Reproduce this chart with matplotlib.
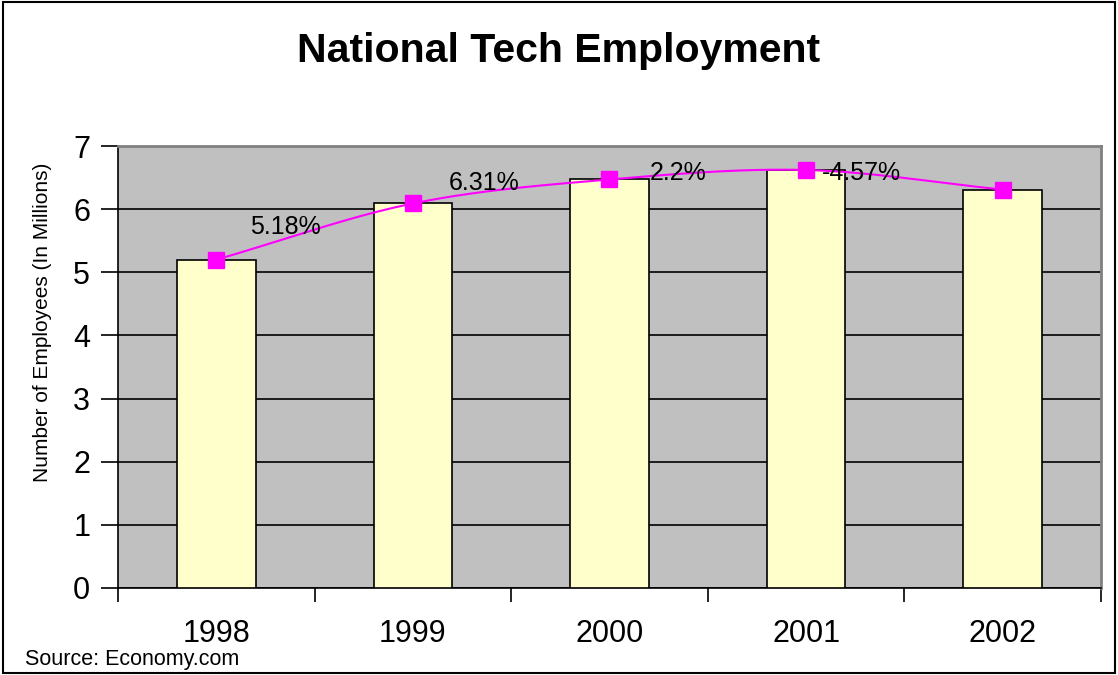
import numpy as np
import matplotlib
matplotlib.use("Agg")
import matplotlib.pyplot as plt
from matplotlib.patches import Rectangle

plt.rcParams['font.family'] = ['Liberation Sans', 'DejaVu Sans']

years = ['1998', '1999', '2000', '2001', '2002']
employees = [5.20, 6.09, 6.47, 6.62, 6.31]
growth_labels = ['5.18%', '6.31%', '2.2%', '-4.57%']
growth_label_x = [0.35, 1.36, 2.35, 3.28]
growth_label_y = [5.72, 6.42, 6.58, 6.58]


def smooth_curve(xs, ys, n=40):
    """Catmull-Rom style smoothing between consecutive points."""
    xs = np.asarray(xs, float)
    ys = np.asarray(ys, float)
    px = np.concatenate([[2 * xs[0] - xs[1]], xs, [2 * xs[-1] - xs[-2]]])
    py = np.concatenate([[2 * ys[0] - ys[1]], ys, [2 * ys[-1] - ys[-2]]])
    out_x, out_y = [], []
    for i in range(1, len(px) - 2):
        t = np.linspace(0, 1, n)
        for arr, out in ((px, out_x), (py, out_y)):
            p0, p1, p2, p3 = arr[i - 1], arr[i], arr[i + 1], arr[i + 2]
            out.extend(0.5 * ((2 * p1) + (-p0 + p2) * t
                              + (2 * p0 - 5 * p1 + 4 * p2 - p3) * t ** 2
                              + (-p0 + 3 * p1 - 3 * p2 + p3) * t ** 3))
    return np.array(out_x), np.array(out_y)


fig = plt.figure(figsize=(11.18, 6.75), dpi=100)
ax = fig.add_axes([0.1055, 0.1289, 0.8793, 0.6548])
ax.set_facecolor('#C0C0C0')

x = np.arange(len(years))
ax.bar(x, employees, width=0.4, color='#FFFFCC', edgecolor='black',
       linewidth=1.2, zorder=3)

cx, cy = smooth_curve(x, employees)
ax.plot(cx, cy, color='#FF00FF', linewidth=1.5, zorder=4)
ax.plot(x, employees, linestyle='none', marker='s', markersize=11,
        color='#FF00FF', zorder=5)

for lx, ly, txt in zip(growth_label_x, growth_label_y, growth_labels):
    ax.text(lx, ly, txt, ha='center', va='center', fontsize=18, zorder=6)

ax.set_xlim(-0.5, len(years) - 0.5)
ax.set_ylim(0, 7)
ax.set_yticks(range(0, 8))
ax.yaxis.grid(True, color='black', linewidth=1.2, zorder=1)
ax.set_axisbelow(True)

ax.set_xticks(np.arange(-0.5, len(years), 1.0))
ax.set_xticklabels([])
ax.set_xticks(x, minor=True)
ax.set_xticklabels(years, minor=True, fontsize=22)
ax.tick_params(axis='x', which='major', direction='out', length=10,
               width=1.2, color='black')
ax.tick_params(axis='x', which='minor', length=0, pad=22)
ax.tick_params(axis='y', direction='out', length=12, width=1.2,
               labelsize=22, pad=8)

for side in ('left', 'bottom'):
    ax.spines[side].set_color('black')
    ax.spines[side].set_linewidth(1.2)
for side in ('top', 'right'):
    ax.spines[side].set_color('#808080')
    ax.spines[side].set_linewidth(2)

fig.text(0.5, 0.925, 'National Tech Employment', ha='center', va='center',
         fontsize=29.5, fontweight='bold')
fig.text(0.038, 0.523, 'Number of Employees (In Millions)', rotation=90,
         ha='center', va='center', fontsize=15)
fig.text(0.022, 0.023, 'Source: Economy.com', ha='left', va='center',
         fontsize=15.5)

fig.patches.append(Rectangle((0.003, 0.003), 0.994, 0.994,
                             transform=fig.transFigure, fill=False,
                             edgecolor='black', linewidth=1.5))

fig.savefig('out.png', dpi=100)
